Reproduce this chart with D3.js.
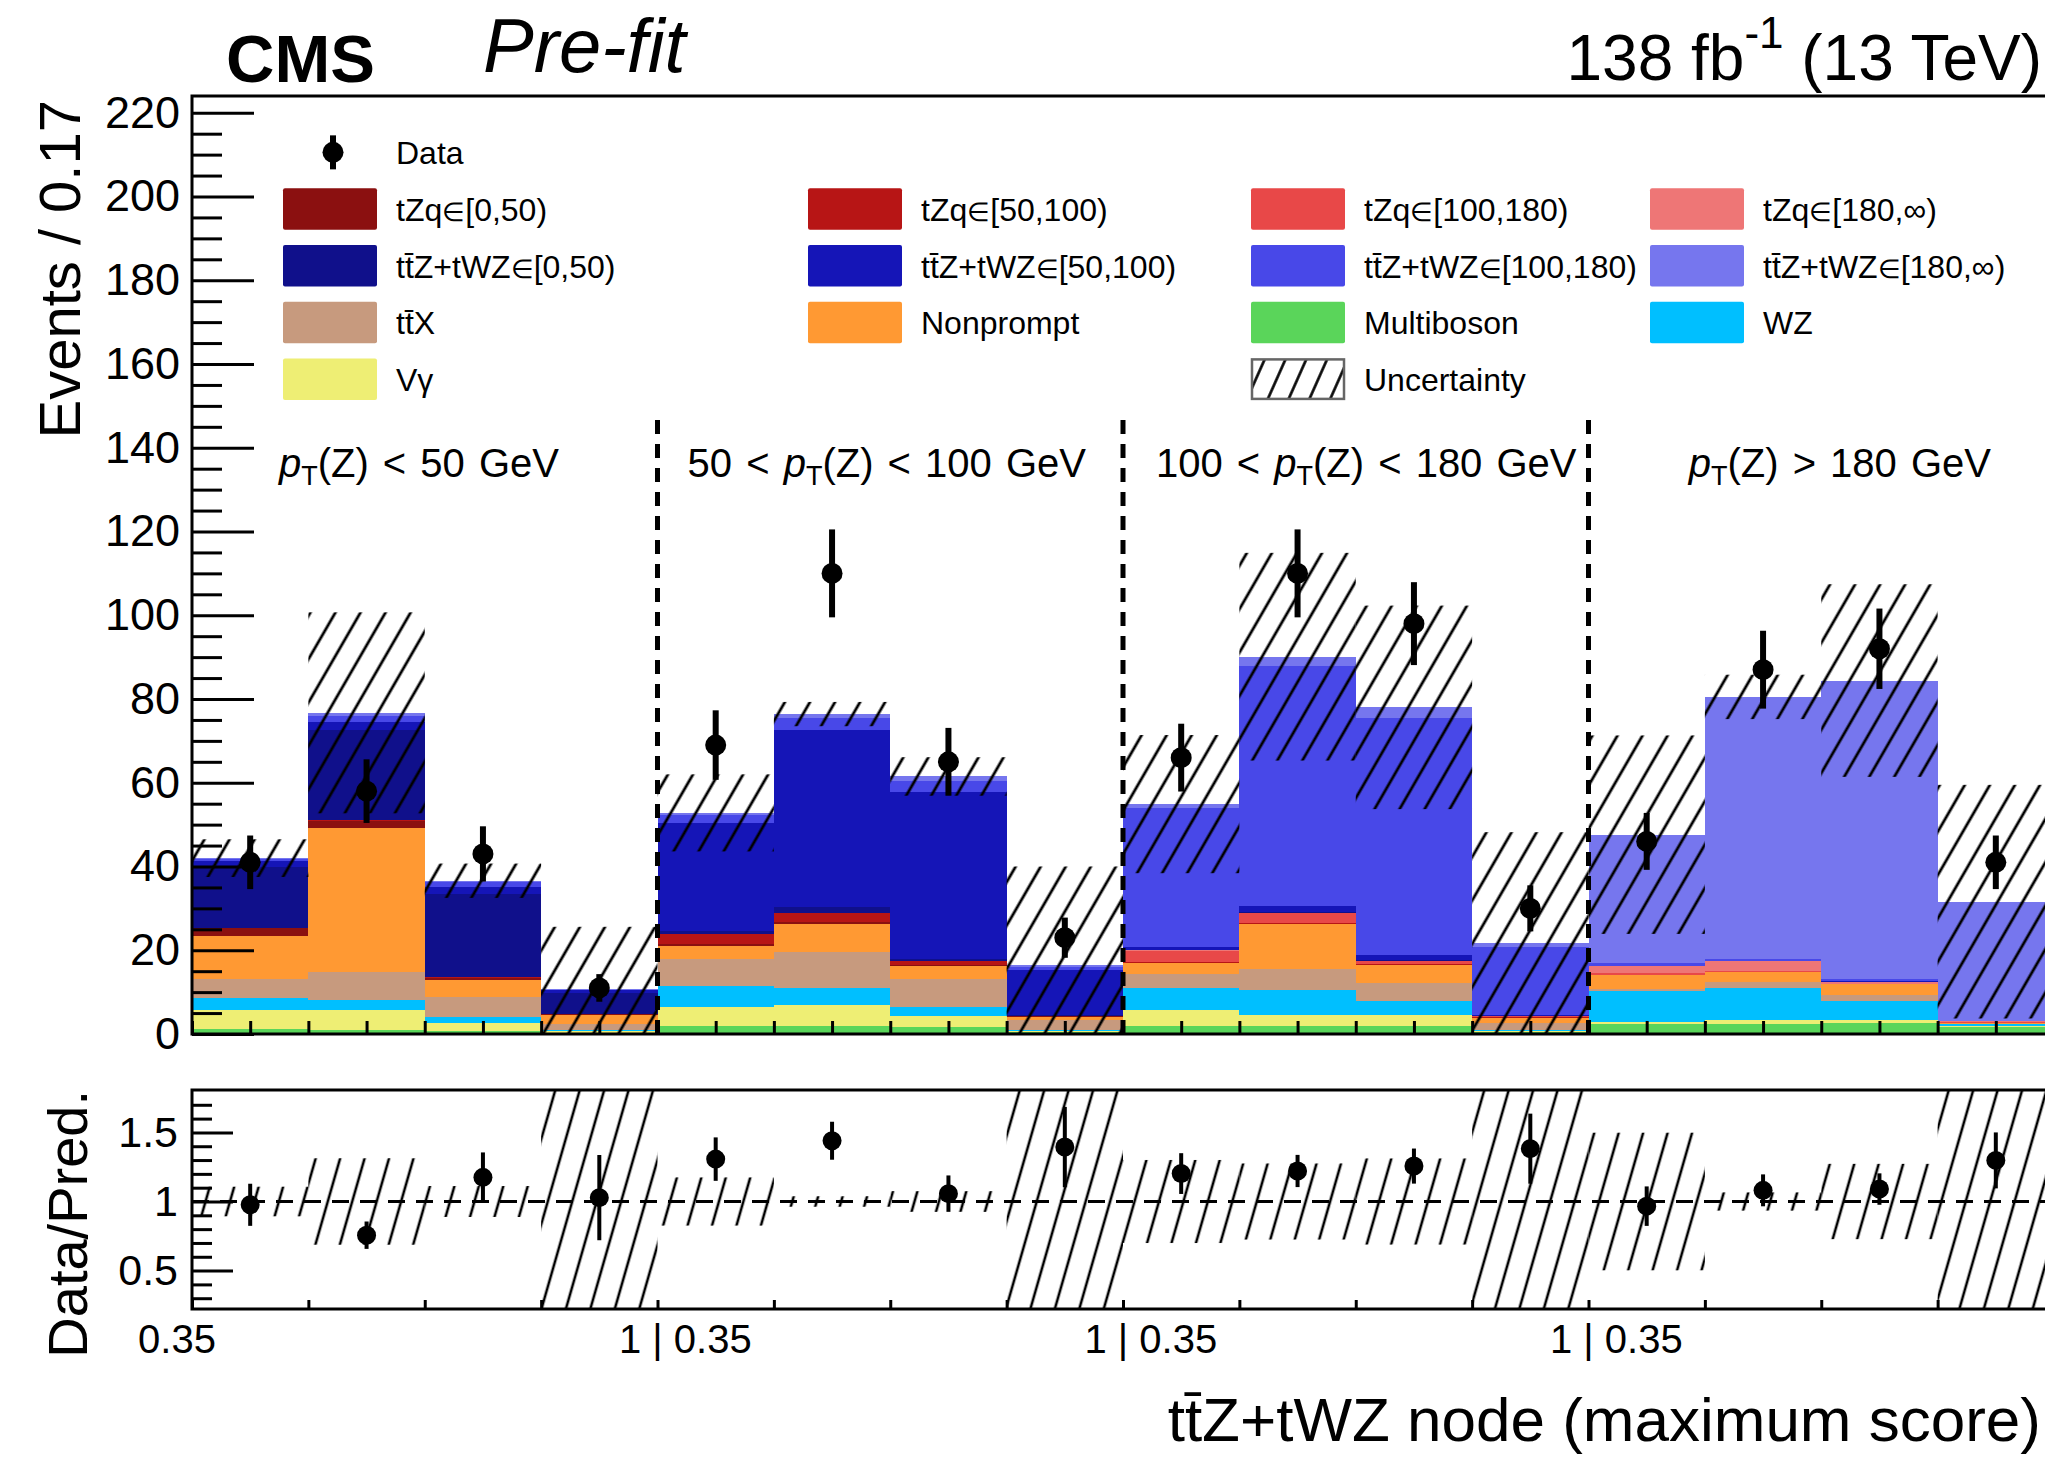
<!DOCTYPE html>
<html>
<head>
<meta charset="utf-8">
<script src="https://cdn.jsdelivr.net/npm/d3@7"></script>
<style>
  html, body { margin: 0; padding: 0; background: #fff; }
  svg { display: block; font-family: "Liberation Sans", Arial, Helvetica, sans-serif; }
</style>
</head>
<body>
<svg id="chart" width="2045" height="1457"></svg>
<script>
// ---------------- data ----------------
// four pT(Z) regions, each split into four bins of the ttZ+tWZ node score (0.35 .. 1)
const ptRegions = ["p_T(Z) < 50 GeV", "50 < p_T(Z) < 100 GeV", "100 < p_T(Z) < 180 GeV", "p_T(Z) > 180 GeV"];
const binsPerRegion = 4;
const xTickLabels = ["0.35", "1 | 0.35", "1 | 0.35", "1 | 0.35"];
const yTicks = [0, 20, 40, 60, 80, 100, 120, 140, 160, 180, 200, 220];
const ratioTicks = [0.5, 1, 1.5];

// expected yields per bin (stacked from the bottom up)
const multiboson = [1.2, 0.9, 0.6, 0.3, 1.8, 1.8, 1.6, 0.5, 1.8, 2.0, 1.8, 0.5, 2.3, 2.5, 2.7, 1.6];
const vgamma     = [4.6, 4.9, 2.1, 0.3, 4.6, 5.1, 2.7, 0.1, 4.0, 2.6, 2.8, 0.1, 0.6, 0.9, 0.7, 0.2];
const wz         = [2.7, 2.4, 1.4, 0.3, 5.0, 4.1, 2.1, 0.3, 5.2, 5.9, 3.4, 0.3, 7.3, 7.6, 4.4, 0.5];
const ttx        = [4.6, 6.7, 4.8, 1.4, 6.4, 8.5, 6.7, 2.5, 3.4, 5.1, 4.2, 1.8, 0.5, 1.5, 1.6, 0.2];
const nonprompt  = [10.4, 34.2, 4.1, 2.3, 3.2, 6.8, 3.1, 0.7, 2.5, 10.7, 4.3, 1.2, 3.5, 2.4, 2.5, 0.2];
const tzq0       = [1.7, 1.7, 0.4, 0.2, 0.5, 0.5, 0.3, 0.1, 0, 0, 0, 0, 0, 0, 0, 0];
const tzq1       = [0.1, 0.2, 0.1, 0, 2.3, 2.0, 0.9, 0.1, 0.3, 0.3, 0.2, 0.1, 0, 0, 0, 0];
const tzq2       = [0, 0, 0, 0, 0.1, 0.1, 0, 0, 2.7, 2.2, 0.7, 0.3, 0.3, 0.2, 0.1, 0.1];
const tzq3       = [0, 0, 0, 0, 0, 0, 0, 0, 0.1, 0.1, 0.1, 0, 1.7, 2.3, 0.5, 0.2];
const ttz0       = [14.7, 21.7, 19.9, 5.0, 0.6, 1.4, 0.5, 0.2, 0.1, 0.2, 0.2, 0.1, 0, 0, 0, 0];
const ttz1       = [1.2, 1.7, 1.8, 0.6, 25.8, 42.2, 39.9, 10.8, 0.7, 1.4, 1.2, 0.2, 0.1, 0.1, 0.1, 0];
const ttz2       = [0.7, 1.5, 1.1, 0.2, 1.9, 3.0, 2.6, 0.8, 33.2, 57.3, 56.6, 16.2, 0.6, 0.5, 0.5, 0.2];
const ttz3       = [0.1, 0.8, 0.3, 0.1, 0.6, 0.9, 1.1, 0.4, 0.9, 2.3, 2.5, 0.9, 30.7, 62.5, 71.3, 28.4];

// observed events and their statistical errors
const data    = [41, 58, 43, 11, 69, 110, 65, 23, 66, 110, 98, 30, 46, 87, 92, 41];
const dataErr = [6.4, 7.6, 6.6, 3.3, 8.3, 10.5, 8.1, 4.8, 8.1, 10.5, 9.9, 5.5, 6.8, 9.3, 9.6, 6.4];
// total uncertainty on the prediction (absolute, symmetric)
const bkgUnc  = [4.5, 24.0, 4.1, 14.9, 9.2, 2.9, 4.6, 23.5, 16.5, 24.8, 24.3, 26.5, 23.7, 5.3, 23.0, 27.9];

// ---------------- styles ----------------
const colors = {
  multiboson: "#5ad55a", vgamma: "#eeee74", wz: "#00bfff", ttx: "#c79a7e", nonprompt: "#ff9933",
  tzq0: "#8b1010", tzq1: "#b71515", tzq2: "#e84848", tzq3: "#ee7676",
  ttz0: "#10108b", ttz1: "#1515b7", ttz2: "#4848e8", ttz3: "#7676ee"
};

const legendEntries = [
  { label: "tZq\u2208[0,50)", key: "tzq0", col: 0, row: 1 },
  { label: "tt\u0304Z+tWZ\u2208[0,50)", key: "ttz0", col: 0, row: 2 },
  { label: "tt\u0304X", key: "ttx", col: 0, row: 3 },
  { label: "V\u03b3", key: "vgamma", col: 0, row: 4 },
  { label: "tZq\u2208[50,100)", key: "tzq1", col: 1, row: 1 },
  { label: "tt\u0304Z+tWZ\u2208[50,100)", key: "ttz1", col: 1, row: 2 },
  { label: "Nonprompt", key: "nonprompt", col: 1, row: 3 },
  { label: "tZq\u2208[100,180)", key: "tzq2", col: 2, row: 1 },
  { label: "tt\u0304Z+tWZ\u2208[100,180)", key: "ttz2", col: 2, row: 2 },
  { label: "Multiboson", key: "multiboson", col: 2, row: 3 },
  { label: "Uncertainty", key: null, col: 2, row: 4 },
  { label: "tZq\u2208[180,\u221e)", key: "tzq3", col: 3, row: 1 },
  { label: "tt\u0304Z+tWZ\u2208[180,\u221e)", key: "ttz3", col: 3, row: 2 },
  { label: "WZ", key: "wz", col: 3, row: 3 }
];

// ---------------- layout ----------------
const W = 2045, H = 1457;
const left = 192, right = 2054;
const mainTop = 96, mainBottom = 1034;
const ratioTop = 1090, ratioBottom = 1309;
const nBins = data.length;
const regionLabelCenters = [1.95, 5.97, 10.09, 14.16];

const x = d3.scaleLinear().domain([0, nBins]).range([left, right]);
const y = d3.scaleLinear().domain([0, 224]).range([mainBottom, mainTop]);
const yr = d3.scaleLinear().domain([0.222, 1.807]).range([ratioBottom, ratioTop]);

const svg = d3.select("#chart");
svg.append("rect").attr("width", W).attr("height", H).attr("fill", "#fff");

const defs = svg.append("defs");
defs.append("clipPath").attr("id", "clipMain").append("rect")
  .attr("x", left).attr("y", mainTop).attr("width", right - left).attr("height", mainBottom - mainTop);
defs.append("clipPath").attr("id", "clipRatio").append("rect")
  .attr("x", left).attr("y", ratioTop).attr("width", right - left).attr("height", ratioBottom - ratioTop);

function hatchPattern(id, angle, spacing, width) {
  const p = defs.append("pattern").attr("id", id)
    .attr("patternUnits", "userSpaceOnUse")
    .attr("width", spacing).attr("height", spacing)
    .attr("patternTransform", `rotate(${angle})`);
  p.append("line")
    .attr("x1", spacing / 2).attr("x2", spacing / 2)
    .attr("y1", -1).attr("y2", spacing + 1)
    .attr("stroke", "#000").attr("stroke-width", width);
}
hatchPattern("hatchMain", 30, 21.7, 2.8);
hatchPattern("hatchRatio", 16, 23.5, 2.6);
hatchPattern("hatchLegend", 24, 19, 2.6);

// ---------------- stacked prediction ----------------
const series = { multiboson, vgamma, wz, ttx, nonprompt, tzq0, tzq1, tzq2, tzq3, ttz0, ttz1, ttz2, ttz3 };
const stackKeys = Object.keys(series);
const rows = d3.range(nBins).map(i => Object.fromEntries(stackKeys.map(k => [k, series[k][i]])));
const layers = d3.stack().keys(stackKeys)(rows);
const totals = rows.map(r => d3.sum(stackKeys, k => r[k]));

const gMain = svg.append("g").attr("clip-path", "url(#clipMain)");
gMain.selectAll("g.layer").data(layers).join("g")
  .attr("class", "layer").attr("fill", d => colors[d.key])
  .selectAll("rect").data(d => d).join("rect")
  .attr("x", (d, i) => x(i))
  .attr("width", (d, i) => x(i + 1) - x(i))
  .attr("y", d => y(d[1]))
  .attr("height", d => Math.max(0, y(d[0]) - y(d[1])))
  .attr("shape-rendering", "crispEdges");

// uncertainty band
gMain.selectAll("rect.unc").data(totals).join("rect")
  .attr("class", "unc")
  .attr("x", (d, i) => x(i))
  .attr("width", (d, i) => x(i + 1) - x(i))
  .attr("y", (d, i) => y(d + bkgUnc[i]))
  .attr("height", (d, i) => y(Math.max(0, d - bkgUnc[i])) - y(d + bkgUnc[i]))
  .attr("fill", "url(#hatchMain)");

// region separators
svg.append("g").selectAll("line").data(d3.range(1, ptRegions.length)).join("line")
  .attr("x1", r => x(r * binsPerRegion)).attr("x2", r => x(r * binsPerRegion))
  .attr("y1", mainBottom).attr("y2", 415)
  .attr("stroke", "#000").attr("stroke-width", 5).attr("stroke-dasharray", "14,10");

// region labels
const regLabels = svg.append("g").attr("font-size", 40).attr("text-anchor", "middle");
ptRegions.forEach((lab, r) => {
  const t = regLabels.append("text").attr("x", x(regionLabelCenters[r])).attr("y", 477)
    .attr("word-spacing", 3);
  const parts = lab.split("p_T");
  t.append("tspan").text(parts[0]);
  t.append("tspan").attr("font-style", "italic").text("p");
  t.append("tspan").attr("font-size", 27).attr("dy", 8).text("T");
  t.append("tspan").attr("dy", -8).text(parts[1]);
});

// observed data
const gData = svg.append("g").attr("clip-path", "url(#clipMain)");
gData.selectAll("line").data(data).join("line")
  .attr("x1", (d, i) => x(i + 0.5)).attr("x2", (d, i) => x(i + 0.5))
  .attr("y1", (d, i) => y(d - dataErr[i])).attr("y2", (d, i) => y(d + dataErr[i]))
  .attr("stroke", "#000").attr("stroke-width", 6);
gData.selectAll("circle").data(data).join("circle")
  .attr("cx", (d, i) => x(i + 0.5)).attr("cy", d => y(d)).attr("r", 10.5).attr("fill", "#000");

// ---------------- main axes ----------------
function styleAxis(g, fs) {
  g.attr("font-family", null).attr("font-size", fs);
  g.select(".domain").remove();
  g.selectAll(".tick line").attr("stroke", "#000").attr("stroke-width", 3);
  g.selectAll(".tick text").attr("fill", "#000");
}
svg.append("g").attr("transform", `translate(${left},0)`)
  .call(d3.axisLeft(y).tickValues(yTicks).tickSizeInner(-62).tickSizeOuter(0).tickPadding(12))
  .call(g => styleAxis(g, 45));
svg.append("g").attr("transform", `translate(${left},0)`)
  .call(d3.axisLeft(y).tickValues(d3.range(0, 224, 5).filter(v => v % 20 !== 0))
    .tickSizeInner(-30).tickSizeOuter(0).tickFormat(""))
  .call(g => styleAxis(g, 10));
svg.append("g").attr("transform", `translate(0,${mainBottom})`)
  .call(d3.axisBottom(x).tickValues(d3.range(0, nBins + 0.01, 0.5)).tickSizeInner(-13).tickSizeOuter(0).tickFormat(""))
  .call(g => styleAxis(g, 10));

const frame = svg.append("g").attr("stroke", "#000").attr("stroke-width", 3).attr("fill", "none");
frame.append("path").attr("d", `M${right},${mainTop}H${left}V${mainBottom}H${right}`);
frame.append("path").attr("d", `M${right},${ratioTop}H${left}V${ratioBottom}H${right}`);

// ---------------- ratio panel ----------------
const gRatio = svg.append("g").attr("clip-path", "url(#clipRatio)");
gRatio.selectAll("rect.unc").data(totals).join("rect")
  .attr("x", (d, i) => x(i))
  .attr("width", (d, i) => x(i + 1) - x(i))
  .attr("y", (d, i) => yr(1 + bkgUnc[i] / d))
  .attr("height", (d, i) => yr(1 - bkgUnc[i] / d) - yr(1 + bkgUnc[i] / d))
  .attr("fill", "url(#hatchRatio)");
gRatio.append("line")
  .attr("x1", left).attr("x2", right).attr("y1", yr(1)).attr("y2", yr(1))
  .attr("stroke", "#000").attr("stroke-width", 3).attr("stroke-dasharray", "17,11");
gRatio.selectAll("line.err").data(data).join("line")
  .attr("class", "err")
  .attr("x1", (d, i) => x(i + 0.5)).attr("x2", (d, i) => x(i + 0.5))
  .attr("y1", (d, i) => yr((d - dataErr[i]) / totals[i]))
  .attr("y2", (d, i) => yr((d + dataErr[i]) / totals[i]))
  .attr("stroke", "#000").attr("stroke-width", 4);
gRatio.selectAll("circle").data(data).join("circle")
  .attr("cx", (d, i) => x(i + 0.5)).attr("cy", (d, i) => yr(d / totals[i]))
  .attr("r", 9.5).attr("fill", "#000");

svg.append("g").attr("transform", `translate(${left},0)`)
  .call(d3.axisLeft(yr).tickValues(ratioTicks).tickFormat(d3.format("~g"))
    .tickSizeInner(-41).tickSizeOuter(0).tickPadding(14))
  .call(g => styleAxis(g, 43));
svg.append("g").attr("transform", `translate(${left},0)`)
  .call(d3.axisLeft(yr).tickValues([0.3, 0.4, 0.6, 0.7, 0.8, 0.9, 1.1, 1.2, 1.3, 1.4, 1.6, 1.7])
    .tickSizeInner(-20).tickSizeOuter(0).tickFormat(""))
  .call(g => styleAxis(g, 10));
svg.append("g").attr("transform", `translate(0,${ratioBottom})`)
  .call(d3.axisBottom(x).tickValues(d3.range(0, nBins + 1)).tickSizeInner(-9).tickSizeOuter(0).tickFormat(""))
  .call(g => styleAxis(g, 10));

// x tick labels at the region boundaries
const xLab = svg.append("g").attr("font-size", 40);
xTickLabels.forEach((lab, r) => {
  const bx = x(r * binsPerRegion);
  const t = xLab.append("text").attr("y", 1353).text(lab);
  if (lab.includes("|")) {
    const k = lab.indexOf("|");
    const node = t.node();
    const pre = node.getSubStringLength(0, k);
    const bar = node.getSubStringLength(k, 1);
    t.attr("x", bx - pre - bar / 2);
  } else {
    t.attr("x", bx - 15).attr("text-anchor", "middle");
  }
});

// ---------------- titles ----------------
svg.append("text").attr("transform", "translate(80,100) rotate(-90)")
  .attr("text-anchor", "end").attr("font-size", 58).text("Events / 0.17");
svg.append("text").attr("transform", "translate(87,1090) rotate(-90)")
  .attr("text-anchor", "end").attr("font-size", 56).text("Data/Pred.");
svg.append("text").attr("x", 2041).attr("y", 1441).attr("text-anchor", "end")
  .attr("font-size", 62).text("tt\u0304Z+tWZ node (maximum score)");

svg.append("text").attr("x", 226).attr("y", 82).attr("font-size", 67).attr("font-weight", "bold").text("CMS");
svg.append("text").attr("x", 483).attr("y", 72).attr("font-size", 76).attr("font-style", "italic").text("Pre-fit");
const lumi = svg.append("text").attr("x", 2042).attr("y", 80).attr("text-anchor", "end").attr("font-size", 64);
lumi.append("tspan").text("138 fb");
lumi.append("tspan").attr("font-size", 44).attr("dy", -32).text("-1");
lumi.append("tspan").attr("dy", 32).text(" (13 TeV)");

// ---------------- legend ----------------
const legColX = [283, 808, 1251, 1650];
const swW = 94, swH = 41.5, rowPitch = 56.7, firstRowTop = 188.3;
const leg = svg.append("g").attr("font-size", 32);
const rowCenter = r => firstRowTop + (r - 1) * rowPitch + swH / 2;

// data entry
const dx0 = legColX[0] + swW / 2 + 3, dy0 = rowCenter(0);
leg.append("line").attr("x1", dx0).attr("x2", dx0).attr("y1", dy0 - 17).attr("y2", dy0 + 17)
  .attr("stroke", "#000").attr("stroke-width", 6);
leg.append("circle").attr("cx", dx0).attr("cy", dy0).attr("r", 10.5).attr("fill", "#000");
leg.append("text").attr("x", legColX[0] + 113).attr("y", dy0 + 12).text("Data");

legendEntries.forEach(e => {
  const sx = legColX[e.col], sy = firstRowTop + (e.row - 1) * rowPitch;
  if (e.key) {
    leg.append("rect").attr("x", sx).attr("y", sy).attr("width", swW).attr("height", swH)
      .attr("rx", 2).attr("fill", colors[e.key]);
  } else {
    leg.append("rect").attr("x", sx + 1).attr("y", sy + 1).attr("width", swW - 2).attr("height", swH - 2)
      .attr("fill", "url(#hatchLegend)").attr("stroke", "#666").attr("stroke-width", 2.5);
  }
  const t = leg.append("text").attr("x", sx + 113).attr("y", sy + swH / 2 + 12);
  const parts = e.label.split("\u2208");
  t.append("tspan").text(parts[0]);
  if (parts.length > 1) {
    t.append("tspan").attr("font-size", 26).text("\u2208");
    t.append("tspan").text(parts[1]);
  }
});
</script>
</body>
</html>
